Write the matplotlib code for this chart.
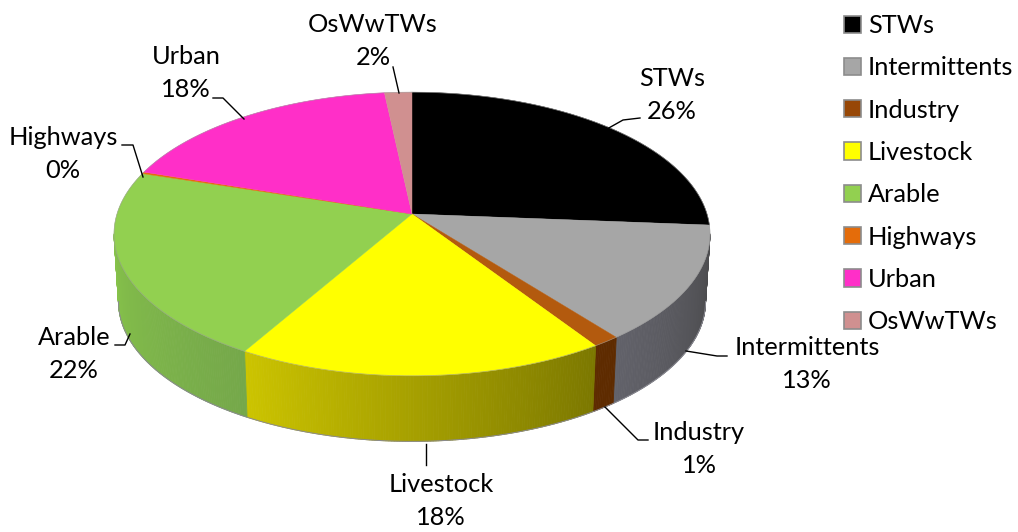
import numpy as np
import matplotlib
matplotlib.use('Agg')
import matplotlib.pyplot as plt
from matplotlib.patches import Patch
from matplotlib.colors import to_rgb

names = ['STWs', 'Intermittents', 'Industry', 'Livestock', 'Arable', 'Highways', 'Urban', 'OsWwTWs']
values = [26.25, 13.2, 1.3, 17.55, 21.6, 0.2, 18.2, 1.7]
colors = ['#000000', '#a6a6a6', '#b35a0e', '#ffff00', '#92d050', '#e46c0a', '#ff2fc8', '#d09090']
legend_colors = ['#000000', '#a6a6a6', '#974706', '#ffff00', '#92d050', '#e46c0a', '#ff2fc8', '#d09090']
# цвет боковой стенки: начало и конец дуги
side_colors = {1: ('#4a4a4c', '#62626a'), 2: ('#5e2b00', '#5e2b00'), 3: ('#7c7800', '#ccc400'), 4: ('#75a84a', '#86c24a')}

plt.rcParams['font.family'] = ['Lato', 'DejaVu Sans']

fig = plt.figure(figsize=(10.18, 5.32), dpi=100)
ax = fig.add_axes([0, 0, 1, 1])
ax.set_xlim(0, 1018)
ax.set_ylim(532, 0)
ax.axis('off')

cx, cy = 412, 214
a, b, k = 295, 139, 0.141
depth, shrink = 68, 0.985


def top_edge(t):
    # перспектива окружности, t - угол по часовой от верха
    x, y = np.sin(t), np.cos(t)
    w = 1 + k * y
    return a * x / w, -b * y / w


def bottom_edge(t):
    x, y = top_edge(t)
    return cx + x * shrink, cy + y * shrink + depth


edges = np.cumsum([0] + values) / sum(values) * 2 * np.pi
vis0, vis1 = np.radians(98), np.radians(262)

# боковые стенки
for i in range(len(values)):
    t0, t1 = max(edges[i], vis0), min(edges[i + 1], vis1)
    if t0 >= t1 or i not in side_colors:
        continue
    c0, c1 = np.array(to_rgb(side_colors[i][0])), np.array(to_rgb(side_colors[i][1]))
    n = int((t1 - t0) * 120) + 2
    ts = np.linspace(t0, t1, n + 1)
    for j in range(n):
        f = j / max(n - 1, 1)
        col = c0 + (c1 - c0) * f
        x0, y0 = top_edge(ts[j])
        x1, y1 = top_edge(ts[j + 1])
        bx0, by0 = bottom_edge(ts[j])
        bx1, by1 = bottom_edge(ts[j + 1])
        ax.fill([cx + x0, cx + x1, bx1, bx0], [cy + y0, cy + y1, by1, by0], color=col, lw=0.6, zorder=2)

ts = np.linspace(vis0, vis1, 300)
bx, by = bottom_edge(ts)
ax.plot(bx, by, color='#8a8a92', lw=0.7, zorder=3)

# верх
for i in range(len(values)):
    ts = np.linspace(edges[i], edges[i + 1], max(int((edges[i + 1] - edges[i]) * 100), 3))
    x, y = top_edge(ts)
    ax.fill(np.r_[cx, cx + x], np.r_[cy, cy + y], color=colors[i], lw=0.3, zorder=4)

ts = np.linspace(0, 2 * np.pi, 500)
x, y = top_edge(ts)
ax.plot(cx + x, cy + y, color='#9a9a9a', lw=0.5, alpha=0.7, zorder=5)

# подписи
label_pos = [(672, 95), (807, 364), (699, 449), (441, 501), (74, 354), (63, 154), (186, 73), (373, 41)]
leaders = [
    [(640, 118), (623, 120), (607, 129)],
    [(686, 351), (717, 356), (727, 356)],
    [(605, 407), (638, 440), (648, 440)],
    [(426, 444), (426, 465)],
    [(130, 334), (125, 345), (115, 345)],
    [(122, 145), (133, 145), (143, 177)],
    [(213, 98), (223, 98), (244, 119)],
    [(393, 67), (399, 93)],
]
for i in range(len(names)):
    ax.text(label_pos[i][0], label_pos[i][1], f'{names[i]}\n{values[i]:.0f}%', ha='center', va='center',
            fontsize=18.3, linespacing=1.5, color='black', zorder=6)
    pts = np.array(leaders[i])
    ax.plot(pts[:, 0], pts[:, 1], color='black', lw=1, zorder=6)

handles = [Patch(facecolor=c, edgecolor='#8c8c8c', lw=1.2) for c in legend_colors]
ax.legend(handles, names, loc='upper left', bbox_to_anchor=(844 / 1018, 1 - 14 / 532), frameon=False, fontsize=18.3,
          handlelength=0.66, handleheight=0.66, handletextpad=0.28, labelspacing=0.76, borderpad=0, borderaxespad=0)

plt.savefig('out.png', dpi=100)
